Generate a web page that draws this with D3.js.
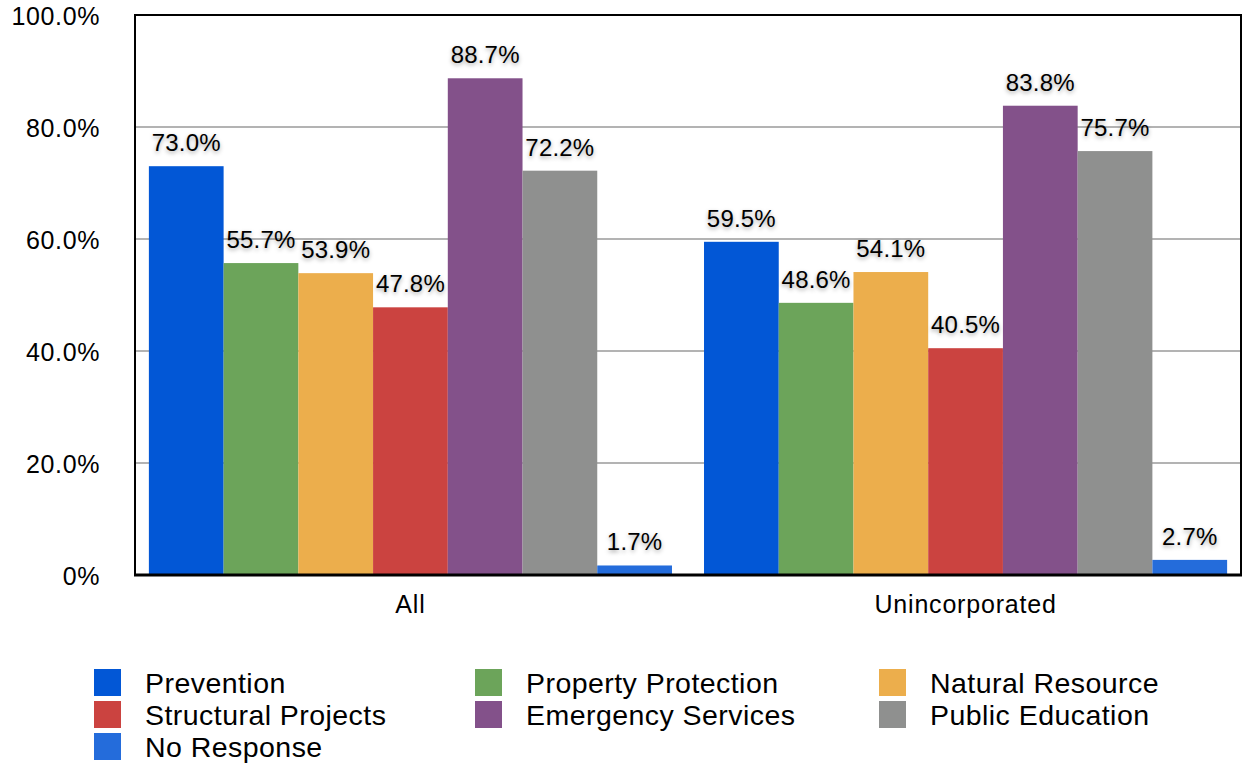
<!DOCTYPE html>
<html>
<head>
<meta charset="utf-8">
<script src="https://cdn.jsdelivr.net/npm/d3@7"></script>
<style>
  html, body { margin: 0; padding: 0; background: #fff; }
  svg { display: block; font-family: "Liberation Sans", Arial, Helvetica, sans-serif; }
  .val { text-shadow: 0 2px 4px rgba(0,0,0,0.35); }
</style>
</head>
<body>
<svg id="chart" width="1246" height="765"></svg>
<script>
const categories = ["All", "Unincorporated"];
const seriesNames = ["Prevention", "Property Protection", "Natural Resource", "Structural Projects", "Emergency Services", "Public Education", "No Response"];
const allValues = [73.0, 55.7, 53.9, 47.8, 88.7, 72.2, 1.7];
const unincorporatedValues = [59.5, 48.6, 54.1, 40.5, 83.8, 75.7, 2.7];
const seriesColors = ["#0257d6", "#6ca45a", "#ecae4c", "#cb4340", "#83518a", "#8f908f", "#246cdb"];
const yTicks = [0, 20, 40, 60, 80, 100];
const yTickLabels = ["0%", "20.0%", "40.0%", "60.0%", "80.0%", "100.0%"];

const valuesByCategory = [allValues, unincorporatedValues];

const svg = d3.select("#chart");
const m = { left: 135, right: 1241, top: 15, bottom: 575 };

const x0 = d3.scaleBand().domain(categories).range([m.left, m.right]).paddingInner(0.0577).paddingOuter(0.025);
const x1 = d3.scaleBand().domain(seriesNames).range([0, x0.bandwidth()]).padding(0);
const y = d3.scaleLinear().domain([0, 100]).range([m.bottom, m.top]);

// gridlines
svg.append("g").selectAll("line").data(yTicks).join("line")
  .attr("x1", m.left).attr("x2", m.right)
  .attr("y1", d => y(d)).attr("y2", d => y(d))
  .attr("stroke", "#b3b3b3").attr("stroke-width", 2);

// y tick labels
svg.append("g").selectAll("text").data(yTicks).join("text")
  .attr("x", 100).attr("y", d => y(d) + 3)
  .attr("text-anchor", "end").attr("dominant-baseline", "middle")
  .attr("font-size", 25).attr("letter-spacing", 0.6).attr("fill", "#000")
  .text((d, i) => yTickLabels[i]);

// bars
const groups = svg.append("g").selectAll("g").data(categories).join("g")
  .attr("transform", d => `translate(${x0(d)},0)`);

groups.selectAll("rect").data((c, ci) => seriesNames.map((s, si) => ({ s, si, v: valuesByCategory[ci][si] })))
  .join("rect")
  .attr("x", d => x1(d.s)).attr("width", x1.bandwidth())
  .attr("y", d => y(d.v)).attr("height", d => y(0) - y(d.v))
  .attr("fill", d => seriesColors[d.si]);

groups.selectAll("text").data((c, ci) => seriesNames.map((s, si) => ({ s, si, v: valuesByCategory[ci][si] })))
  .join("text")
  .attr("class", "val")
  .attr("x", d => x1(d.s) + x1.bandwidth() / 2)
  .attr("y", d => y(d.v) - 15)
  .attr("text-anchor", "middle")
  .attr("font-size", 24).attr("letter-spacing", 0.2).attr("fill", "#000")
  .text(d => d.v.toFixed(1) + "%");

// frame
svg.append("path")
  .attr("d", `M${m.left},${m.bottom}V${m.top}H${m.right}V${m.bottom}`)
  .attr("fill", "none").attr("stroke", "#000").attr("stroke-width", 2);
svg.append("line")
  .attr("x1", m.left - 1).attr("x2", m.right + 1)
  .attr("y1", m.bottom).attr("y2", m.bottom)
  .attr("stroke", "#000").attr("stroke-width", 3);

// category labels
svg.append("g").selectAll("text").data(categories).join("text")
  .attr("x", d => x0(d) + x0.bandwidth() / 2).attr("y", 613)
  .attr("text-anchor", "middle").attr("font-size", 25).attr("letter-spacing", 0.8)
  .text(d => d);

// legend
const legendCols = [94, 475, 879];
const legendRows = [669, 701, 733];
const legend = svg.append("g").selectAll("g").data(seriesNames).join("g")
  .attr("transform", (d, i) => `translate(${legendCols[i % 3]},${legendRows[Math.floor(i / 3)]})`);
legend.append("rect").attr("width", 27).attr("height", 27).attr("fill", (d, i) => seriesColors[i]);
legend.append("text").attr("x", 51).attr("y", 24)
  .attr("font-size", 28.5).attr("letter-spacing", 0.45).attr("fill", "#000")
  .text(d => d);
</script>
</body>
</html>
